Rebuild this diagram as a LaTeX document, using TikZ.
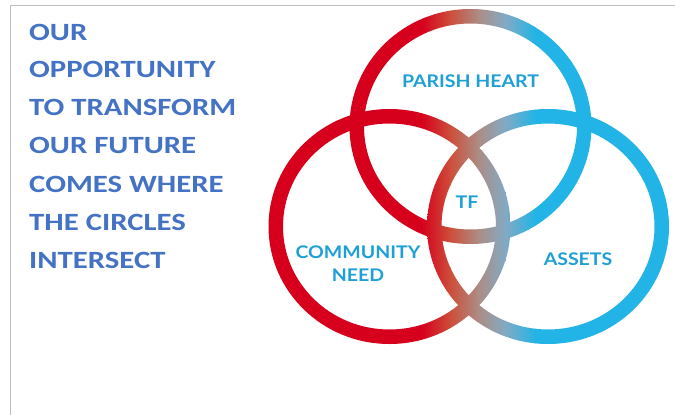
\documentclass[tikz,border=0pt]{standalone}
\usepackage{fontspec}
\newfontfamily\titlefont[FakeStretch=1.24]{Carlito}
\newfontfamily\labelfont[FakeStretch=1.12]{Lato}
\definecolor{ringred}{RGB}{214,0,28}
\definecolor{ringblue}{RGB}{34,180,230}
\definecolor{ringmidA}{RGB}{205,78,58}
\definecolor{ringmidB}{RGB}{172,140,132}
\definecolor{ringmidC}{RGB}{130,170,196}
\definecolor{titleblue}{RGB}{68,114,196}
\definecolor{labelblue}{RGB}{30,160,215}
\newcommand\myringpaint{%
  \fill[ringred] (250,0) rectangle (422,415);
  \shade[left color=ringred, right color=ringmidA] (421.5,0) rectangle (450.5,415);
  \shade[left color=ringmidA, right color=ringmidB] (450,0) rectangle (478.5,415);
  \shade[left color=ringmidB, right color=ringmidC] (478,0) rectangle (505.5,415);
  \shade[left color=ringmidC, right color=ringblue] (505,0) rectangle (535.5,415);
  \fill[ringblue] (535,0) rectangle (680,415);}
\newcommand\myring[2]{%
  \begin{scope}[even odd rule]
  \clip (#1,#2) ellipse [x radius=121, y radius=117.5]
        (#1,#2) ellipse [x radius=106.5, y radius=103];
  \myringpaint
  \end{scope}}
\begin{document}
\begin{tikzpicture}[x=1pt,y=-1pt,
  titleline/.style={anchor=base west, inner sep=0pt, text=titleblue, font=\titlefont\bfseries\fontsize{24.8}{24.8}\selectfont},
  ringlabel/.style={anchor=base, inner sep=0pt, text=labelblue, font=\labelfont\bfseries\fontsize{17.4}{17.4}\selectfont}]
\useasboundingbox (0,0) rectangle (675,415);
\fill[white] (0,0) rectangle (675,415);
\draw[black!25, line width=1pt] (10.5,415) -- (10.5,5.5) -- (675,5.5);
% title
\node[titleline] (t1) at (29,40) {OUR};
\node[titleline] (t2) at (29,77.5) {OPPORTUNITY};
\node[titleline] (t3) at (29,115.5) {TO TRANSFORM};
\node[titleline] (t4) at (29,153.8) {OUR FUTURE};
\node[titleline] (t5) at (29,192.1) {COMES WHERE};
\node[titleline] (t6) at (29,230.4) {THE CIRCLES};
\node[titleline] (t7) at (29,268.7) {INTERSECT};
% rings
\myring{470.5}{126.5}
\myring{389.5}{226.5}
\myring{548}{226.5}
% labels
\node[ringlabel] (ph) at (470.5,87.5) {PARISH HEART};
\node[ringlabel] (tf) at (467,208) {TF};
\node[ringlabel] (cn1) at (358,258) {COMMUNITY};
\node[ringlabel] (cn2) at (358,281) {NEED};
\node[ringlabel] (as) at (578,265.5) {ASSETS};
\end{tikzpicture}
\end{document}
